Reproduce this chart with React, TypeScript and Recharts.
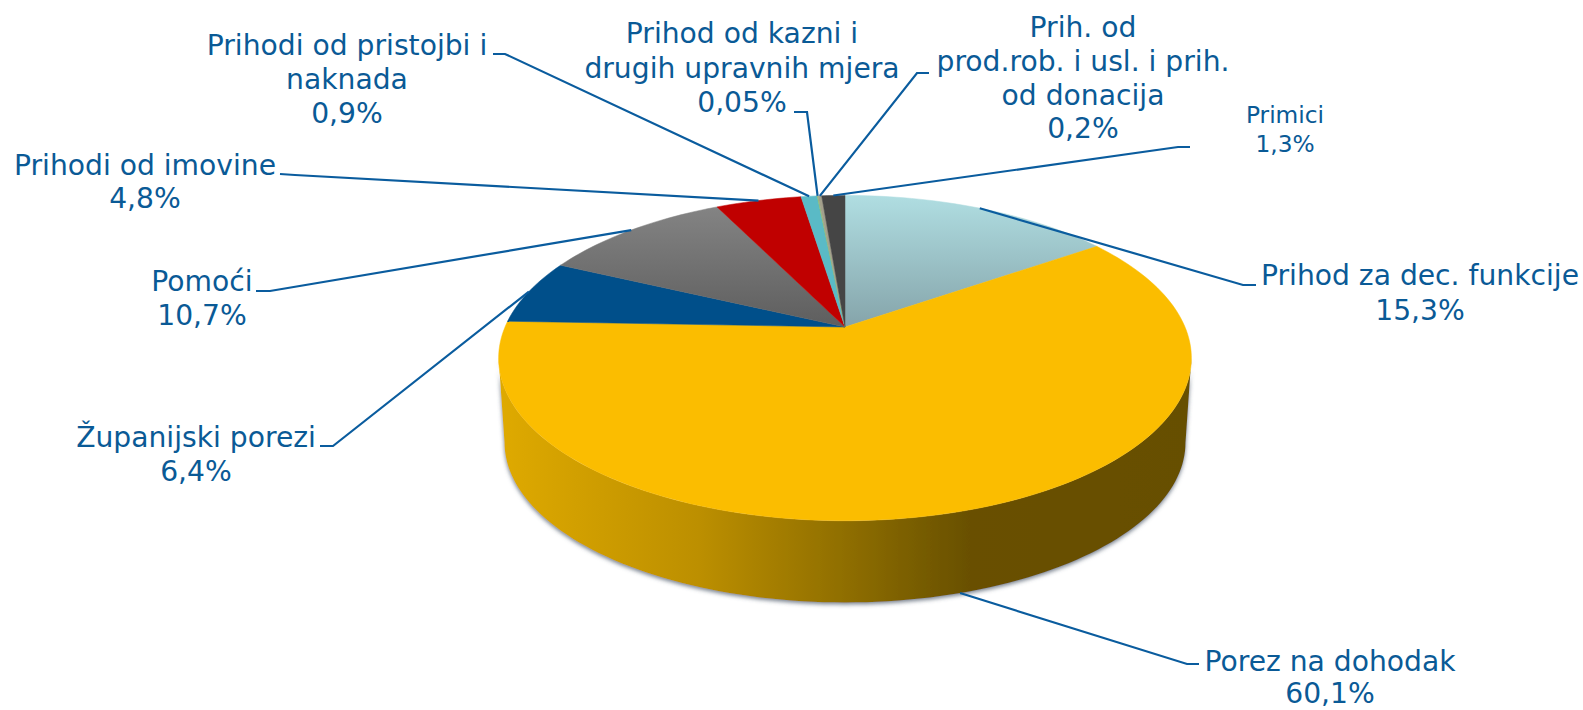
import React from "react";
import { PieChart, Pie, Cell } from "recharts";

const categories = [
  "Prihod za dec. funkcije",
  "Porez na dohodak",
  "Županijski porezi",
  "Pomoći",
  "Prihodi od imovine",
  "Prihodi od pristojbi i naknada",
  "Prihod od kazni i drugih upravnih mjera",
  "Prih. od prod.rob. i usl. i prih. od donacija",
  "Primici",
];
const shares = [15.3, 60.1, 6.4, 10.7, 4.8, 0.9, 0.05, 0.2, 1.3];
const shareLabels = ["15,3%", "60,1%", "6,4%", "10,7%", "4,8%", "0,9%", "0,05%", "0,2%", "1,3%"];
const labelLines = [
  ["Prihod za dec. funkcije"],
  ["Porez na dohodak"],
  ["Županijski porezi"],
  ["Pomoći"],
  ["Prihodi od imovine"],
  ["Prihodi od pristojbi i", "naknada"],
  ["Prihod od kazni i", "drugih upravnih mjera"],
  ["Prih. od", "prod.rob. i usl. i prih.", "od donacija"],
  ["Primici"],
];
const sliceFills = [
  "url(#decFill)",
  "#FBBD00",
  "#004F8A",
  "url(#greyFill)",
  "#C00000",
  "#5ABAC6",
  "#8CC070",
  "#A3A08C",
  "#454545",
];

const data = categories.map((name, i) => ({ name, value: shares[i] }));

const INK = "#0A5A96";
const LEADER = "#0A5C9E";

// perspective of the tilted disc: far side shrinks, near side grows
const TILT = 0.191;
const SQUASH = 0.461;
const RIM_SCALE = 0.983;
const RIM_DROP = 85;
const FRONT_RIGHT = -11;
const FRONT_LEFT = -169;

function project(cx: number, cy: number, r: number, deg: number) {
  const a = (deg * Math.PI) / 180;
  const u = Math.cos(a);
  const v = Math.sin(a);
  const d = 1 + TILT * v;
  return [cx + (r * u) / d, cy - (r * SQUASH * v) / d];
}

function arc(cx: number, cy: number, r: number, from: number, to: number) {
  const steps = Math.max(2, Math.ceil(Math.abs(to - from) / 1.5));
  const pts: number[][] = [];
  for (let i = 0; i <= steps; i++) {
    pts.push(project(cx, cy, r, from + ((to - from) * i) / steps));
  }
  return pts;
}

const toPath = (pts: number[][]) =>
  "M" + pts.map((p) => `${p[0].toFixed(2)},${p[1].toFixed(2)}`).join("L") + "Z";

function Slice(props: any) {
  const { cx, cy, outerRadius, startAngle, endAngle, fill } = props;
  const top = [[cx, cy], ...arc(cx, cy, outerRadius, startAngle, endAngle)];
  const hi = Math.min(startAngle, FRONT_RIGHT);
  const lo = Math.max(endAngle, FRONT_LEFT);
  let side = null;
  if (hi > lo) {
    const upper = arc(cx, cy, outerRadius, hi, lo);
    const lower = arc(cx, cy + RIM_DROP, outerRadius * RIM_SCALE, lo, hi);
    side = (
      <path d={toPath([...upper, ...lower])} fill="url(#sideFill)" filter="url(#rimShadow)" />
    );
  }
  return (
    <g>
      {side}
      <path d={toPath(top)} fill={fill} stroke={fill} strokeWidth={0.5} />
    </g>
  );
}

// text anchor x, first baseline, leader elbow and end, per slice
const labelLayout = [
  { x: 1420, y: 285, elbow: [1243, 285], end: [1256, 285], size: 28.2, lead: 35 },
  { x: 1330, y: 671, elbow: [1187, 664], end: [1199, 664], size: 28.2, lead: 32, lowerRim: true },
  { x: 196, y: 447, elbow: [333, 446], end: [320, 446], size: 28.2, lead: 34 },
  { x: 202, y: 291, elbow: [270, 291], end: [256, 291], size: 28.2, lead: 34 },
  { x: 145, y: 175, elbow: [295, 175], end: [280, 174], size: 28.2, lead: 33 },
  { x: 347, y: 55, elbow: [505, 54], end: [493, 54], size: 28.2, lead: 34 },
  { x: 742, y: 43, elbow: [807, 112], end: [794, 112], size: 28.2, lead: 34.5 },
  { x: 1083, y: 37, elbow: [917, 73], end: [929, 73], size: 28.2, lead: 33.8 },
  { x: 1285, y: 123, elbow: [1178, 147], end: [1190, 147], size: 23.3, lead: 29 },
];

function SliceLabel(props: any) {
  const { cx, cy, outerRadius, midAngle, index } = props;
  const spot = labelLayout[index];
  const start = spot.lowerRim
    ? project(cx, cy + RIM_DROP, outerRadius * RIM_SCALE, midAngle)
    : project(cx, cy, outerRadius, midAngle);
  const lines = [...labelLines[index], shareLabels[index]];
  return (
    <g>
      <polyline
        points={[start, spot.elbow, spot.end].map((p) => p.join(",")).join(" ")}
        fill="none"
        stroke={LEADER}
        strokeWidth={2.2}
      />
      <text
        textAnchor="middle"
        fill={INK}
        fontFamily="'DejaVu Sans', Verdana, sans-serif"
        fontSize={spot.size}
      >
        {lines.map((line, i) => (
          <tspan key={i} x={spot.x} y={spot.y + i * spot.lead}>
            {line}
          </tspan>
        ))}
      </text>
    </g>
  );
}

export default function App() {
  return (
    <div style={{ position: "absolute", left: 0, top: 0, width: 1583, height: 710, background: "#fff" }}>
      <PieChart width={1583} height={710} margin={{ top: 0, right: 0, bottom: 0, left: 0 }}>
        <defs>
          <linearGradient id="decFill" gradientUnits="userSpaceOnUse" x1="0" y1="195" x2="0" y2="327">
            <stop offset="0%" stopColor="#B0DEE2" />
            <stop offset="100%" stopColor="#85A4AA" />
          </linearGradient>
          <linearGradient id="greyFill" gradientUnits="userSpaceOnUse" x1="0" y1="205" x2="0" y2="327">
            <stop offset="0%" stopColor="#848484" />
            <stop offset="100%" stopColor="#5E5E5E" />
          </linearGradient>
          <linearGradient id="sideFill" gradientUnits="userSpaceOnUse" x1="498" y1="0" x2="1192" y2="0">
            <stop offset="0%" stopColor="#DFAA00" />
            <stop offset="15%" stopColor="#CD9C00" />
            <stop offset="29%" stopColor="#BC8F00" />
            <stop offset="41%" stopColor="#A27C00" />
            <stop offset="52%" stopColor="#8B6B00" />
            <stop offset="62%" stopColor="#745A00" />
            <stop offset="68%" stopColor="#695000" />
            <stop offset="100%" stopColor="#665000" />
          </linearGradient>
          <filter id="rimShadow" x="-5%" y="-5%" width="110%" height="115%">
            <feDropShadow dx="0" dy="2" stdDeviation="2" floodColor="#4A5668" floodOpacity="0.75" />
          </filter>
        </defs>
        <Pie
          data={data}
          dataKey="value"
          nameKey="name"
          cx={845}
          cy={327}
          innerRadius={0}
          outerRadius={340}
          startAngle={90}
          endAngle={-270}
          paddingAngle={0}
          stroke="none"
          isAnimationActive={false}
          shape={Slice}
          label={SliceLabel}
          labelLine={false}
        >
          {data.map((d, i) => (
            <Cell key={d.name} fill={sliceFills[i]} />
          ))}
        </Pie>
      </PieChart>
    </div>
  );
}
